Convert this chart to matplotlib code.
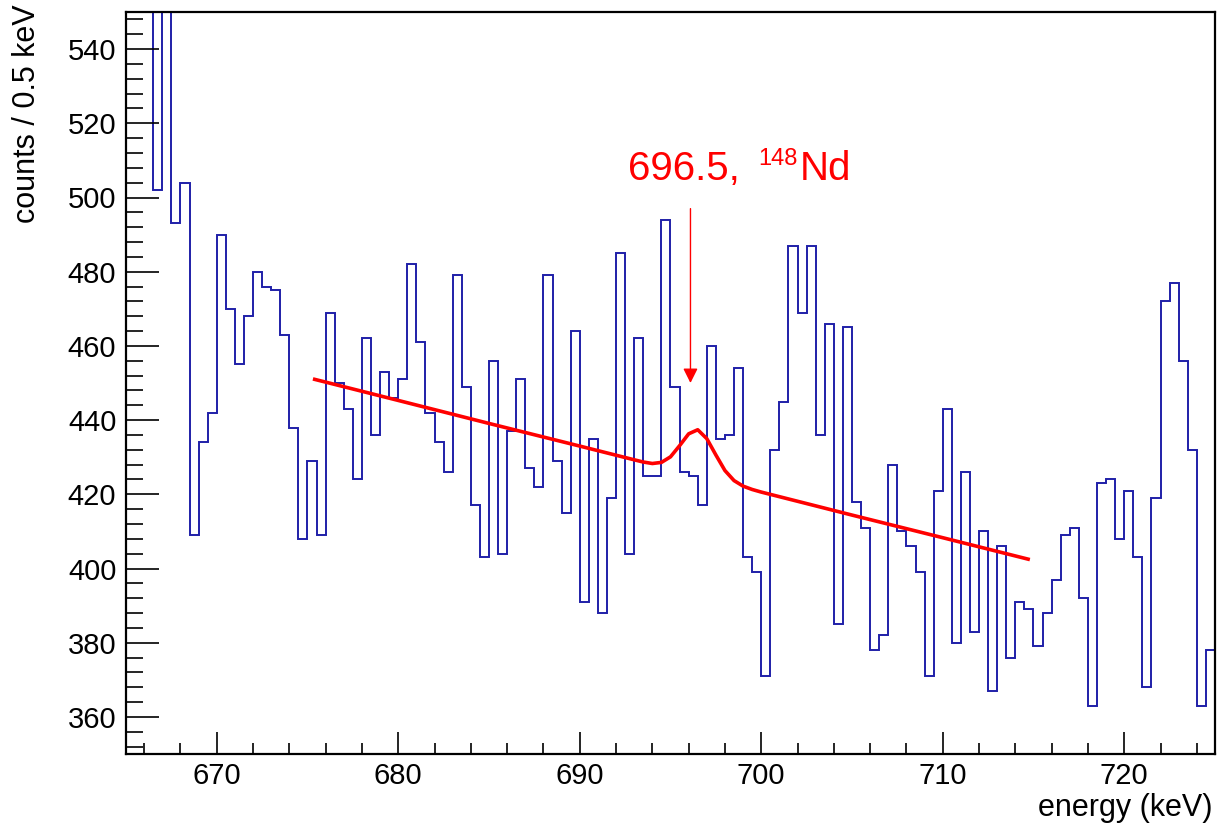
import numpy as np
import matplotlib
matplotlib.use("Agg")
import matplotlib.pyplot as plt
from matplotlib.ticker import MultipleLocator

plt.rcParams['font.family'] = ['Liberation Sans', 'DejaVu Sans']

# histogram: 0.5 keV bins from 665 to 725 keV
bin_edges = np.arange(665.0, 725.01, 0.5)
counts = np.array([
    575, 590, 600, 502, 570, 493, 504, 409, 434, 442,
    490, 470, 455, 468, 480, 476, 475, 463, 438, 408,
    429, 409, 469, 450, 443, 424, 462, 436, 453, 446,
    451, 482, 461, 442, 434, 426, 479, 449, 417, 403,
    456, 404, 437, 451, 427, 422, 479, 429, 415, 464,
    391, 435, 388, 419, 485, 404, 462, 425, 425, 494,
    449, 426, 425, 417, 460, 435, 436, 454, 403, 399,
    371, 432, 445, 487, 469, 487, 436, 466, 385, 465,
    418, 411, 378, 382, 428, 410, 406, 399, 371, 421,
    443, 380, 426, 383, 410, 367, 406, 376, 391, 389,
    379, 388, 397, 409, 411, 392, 363, 423, 424, 408,
    421, 403, 368, 419, 472, 477, 456, 432, 363, 378,
])

# fit curve (linear background + peak)
fit_e = [675.3, 680.0, 685.0, 690.0, 693.0, 693.5, 694.0, 694.5, 695.0, 695.5,
         696.0, 696.5, 697.0, 697.5, 698.0, 698.5, 699.0, 699.5, 700.0, 705.0,
         710.0, 714.8]
fit_c = [451.1, 445.3, 439.1, 433.0, 429.3, 428.7, 428.3, 428.6, 430.1, 433.1,
         436.3, 437.4, 435.0, 430.6, 426.4, 423.7, 422.2, 421.3, 420.6, 414.4,
         408.3, 402.4]

peak_energy = 696.1
arrow_top, arrow_tip = 497, 450

fig = plt.figure(figsize=(12.19, 8.23), dpi=100)
ax = fig.add_axes([126/1219, 1-754/823, 1089/1219, 742/823])

ylo, yhi = 350, 550
ax.stairs(np.minimum(counts, yhi), bin_edges, baseline=None,
          color='#1f1fa8', lw=1.4, clip_on=False)
ax.plot(fit_e, fit_c, color='#ff0000', lw=2.6, solid_capstyle='butt')

# arrow pointing at the peak
ax.annotate('', xy=(peak_energy, arrow_tip), xytext=(peak_energy, arrow_top),
            arrowprops=dict(arrowstyle='-|>', color='#ff0000', lw=1.0,
                            mutation_scale=22, shrinkA=0, shrinkB=0))
ax.text(692.66, 504.7, '696.5,', color='#ff0000', fontsize=29, va='baseline')
ax.text(699.82, 508.7, '148', color='#ff0000', fontsize=17, va='baseline')
ax.text(702.13, 504.7, 'Nd', color='#ff0000', fontsize=29, va='baseline')

ax.set_xlim(665, 725)
ax.set_ylim(ylo, yhi)
ax.xaxis.set_major_locator(MultipleLocator(10))
ax.xaxis.set_minor_locator(MultipleLocator(2))
ax.yaxis.set_major_locator(MultipleLocator(20))
ax.yaxis.set_minor_locator(MultipleLocator(4))
ax.tick_params(axis='x', which='major', direction='in', length=16, width=1.2, labelsize=21, pad=6)
ax.tick_params(axis='x', which='minor', direction='in', length=8, width=1.2)
ax.tick_params(axis='y', which='major', direction='in', length=24, width=1.2, labelsize=21, pad=7)
ax.tick_params(axis='y', which='minor', direction='in', length=12, width=1.2)
for s in ax.spines.values():
    s.set_linewidth(1.6)

fig.text(1212/1219, 1-808/823, 'energy (keV)', fontsize=22, ha='right', va='center')
fig.text(27/1219, 1-4/823, 'counts / 0.5 keV', fontsize=22, rotation=90, ha='center', va='top')

fig.savefig('out.png', dpi=100)
